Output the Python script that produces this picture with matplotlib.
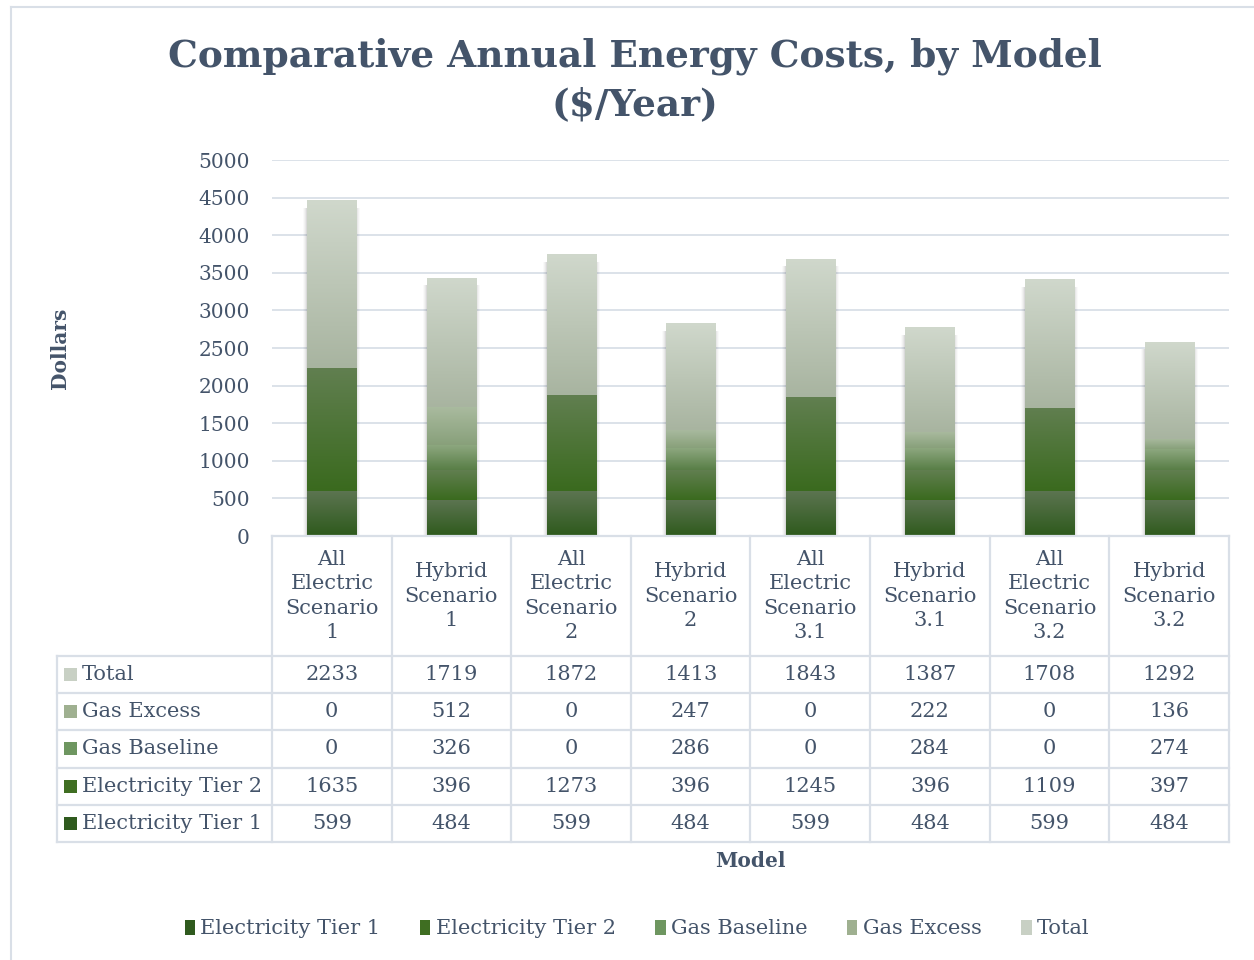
import numpy as np
import matplotlib
matplotlib.use("Agg")
import matplotlib.pyplot as plt
from matplotlib.patches import Patch, Rectangle
from matplotlib.lines import Line2D
from matplotlib.colors import LinearSegmentedColormap
import matplotlib.transforms as mtransforms

categories = ["All\nElectric\nScenario\n1", "Hybrid\nScenario\n1",
              "All\nElectric\nScenario\n2", "Hybrid\nScenario\n2",
              "All\nElectric\nScenario\n3.1", "Hybrid\nScenario\n3.1",
              "All\nElectric\nScenario\n3.2", "Hybrid\nScenario\n3.2"]
elec_tier1 = [599, 484, 599, 484, 599, 484, 599, 484]
elec_tier2 = [1635, 396, 1273, 396, 1245, 396, 1109, 397]
gas_baseline = [0, 326, 0, 286, 0, 284, 0, 274]
gas_excess = [0, 512, 0, 247, 0, 222, 0, 136]
total = [2233, 1719, 1872, 1413, 1843, 1387, 1708, 1292]

series_names = ["Electricity Tier 1", "Electricity Tier 2", "Gas Baseline", "Gas Excess", "Total"]
series_vals = [elec_tier1, elec_tier2, gas_baseline, gas_excess, total]
# gradient (top, bottom) colours and legend swatch colours
grad = [("#5d7552", "#2e5a1c"), ("#617f50", "#3a6a1e"), ("#8da77f", "#587e46"),
        ("#aabba0", "#88a07a"), ("#d0d8cc", "#a8b4a0")]
swatch = ["#2f5a1e", "#3f6e22", "#6e9660", "#9fb090", "#c8d0c4"]

TXT = "#44546a"
GRID = "#d9dfe7"
FONT = "DejaVu Serif"
plt.rcParams['font.family'] = [FONT, 'DejaVu Sans']

W, H = 1254, 960
fig = plt.figure(figsize=(W / 100, H / 100), dpi=100)

def fx(px):
    return px / W

def fy(py):
    return 1 - py / H

ax = fig.add_axes([fx(272), fy(536), fx(1229) - fx(272), fy(160) - fy(536)])
n = len(categories)
x = np.arange(n)
ax.set_xlim(-0.5, n - 0.5)
ax.set_ylim(0, 5000)
ax.set_yticks(np.arange(0, 5001, 500))
ax.yaxis.grid(True, color=GRID, lw=1.3)
ax.set_axisbelow(True)
ax.set_xticks([])
for s in ax.spines.values():
    s.set_visible(False)
ax.tick_params(axis='y', length=0, labelsize=14.5, labelcolor=TXT, pad=16)

BW = 0.41
bottom = np.zeros(n)
for vals, (ctop, cbot) in zip(series_vals, grad):
    vals = np.array(vals, dtype=float)
    bars = ax.bar(x, vals, width=BW, bottom=bottom, color="none", lw=0, zorder=2)
    cmap = LinearSegmentedColormap.from_list("g", [cbot, ctop])
    gimg = np.linspace(0, 1, 256).reshape(-1, 1)
    for b in bars:
        if b.get_height() <= 0:
            continue
        x0, y0 = b.get_x(), b.get_y()
        x1, y1 = x0 + b.get_width(), y0 + b.get_height()
        im = ax.imshow(gimg, cmap=cmap, extent=(x0, x1, y0, y1), origin="lower",
                       aspect="auto", zorder=2, interpolation="bilinear")
        im.set_clip_path(b)
    bottom += vals

# soft shadow around the stacks
for i in range(n):
    for k, a in [(1, 0.06), (2, 0.04), (3, 0.03), (4, 0.02)]:
        for sgn in (-1, 1):
            off = mtransforms.ScaledTranslation(sgn * k / 100, -3 / 100, fig.dpi_scale_trans)
            sh = Rectangle((x[i] - BW / 2, 0), BW, bottom[i] - 60, facecolor="#000000", alpha=a,
                           lw=0, zorder=1.5, transform=ax.transData + off)
            ax.add_patch(sh)

ax.set_xlim(-0.5, n - 0.5)
ax.set_ylim(0, 5000)

# title
fig.text(fx(635), fy(80), "Comparative Annual Energy Costs, by Model\n($/Year)",
         ha="center", va="center", fontsize=27, fontweight="bold", color=TXT, linespacing=1.38)
fig.text(fx(60), fy(348), "Dollars", rotation=90, ha="center", va="center",
         fontsize=14.5, fontweight="bold", color=TXT)
fig.text(fx(750), fy(861), "Model", ha="center", va="center",
         fontsize=14.5, fontweight="bold", color=TXT)

# data table
blend = mtransforms.blended_transform_factory(ax.transData, fig.transFigure)
row_edges = [656, 693, 730, 768, 805, 842]
lw = 1.6

def hline(y, x0, x1):
    fig.add_artist(Line2D([fx(x0), fx(x1)], [fy(y), fy(y)], color=GRID, lw=lw))

def vline(xp, y0, y1):
    fig.add_artist(Line2D([fx(xp), fx(xp)], [fy(y0), fy(y1)], color=GRID, lw=lw))

hline(536, 272, 1229)
for y in row_edges:
    hline(y, 57, 1229)
vline(57, 656, 842)
vline(272, 536, 842)
for i in range(n):
    ax.add_artist(Line2D([i + 0.5, i + 0.5], [fy(536), fy(842)], color=GRID, lw=lw,
                         transform=blend, clip_on=False))

for i, c in enumerate(categories):
    ax.text(i, fy(596), c, transform=blend, ha="center", va="center", fontsize=15,
            color=TXT, linespacing=1.35, clip_on=False)

table_rows = list(zip(series_names, series_vals, swatch))[::-1]
for r, (name, vals, col) in enumerate(table_rows):
    yc = (row_edges[r] + row_edges[r + 1]) / 2
    fig.add_artist(Rectangle((fx(64), fy(yc + 6)), fx(13), fy(yc - 7) - fy(yc + 6),
                             facecolor=col, lw=0, transform=fig.transFigure))
    fig.text(fx(82), fy(yc), name, ha="left", va="center", fontsize=15, color=TXT)
    for i, v in enumerate(vals):
        ax.text(i, fy(yc), f"{v}", transform=blend, ha="center", va="center",
                fontsize=15, color=TXT, clip_on=False)

# legend
handles = [Patch(facecolor=c, lw=0) for c in swatch]
fig.legend(handles, series_names, loc="center", bbox_to_anchor=(fx(637), fy(929)),
           ncol=5, frameon=False, fontsize=15, labelcolor=TXT, handlelength=0.5,
           handleheight=0.7, handletextpad=0.25, columnspacing=1.9)

# chart border (top and left visible)
fig.add_artist(Line2D([fx(11), fx(11)], [fy(7), 0], color=GRID, lw=1.5))
fig.add_artist(Line2D([fx(11), 1], [fy(7), fy(7)], color=GRID, lw=1.5))

fig.savefig("out.png", dpi=100, facecolor="white")
